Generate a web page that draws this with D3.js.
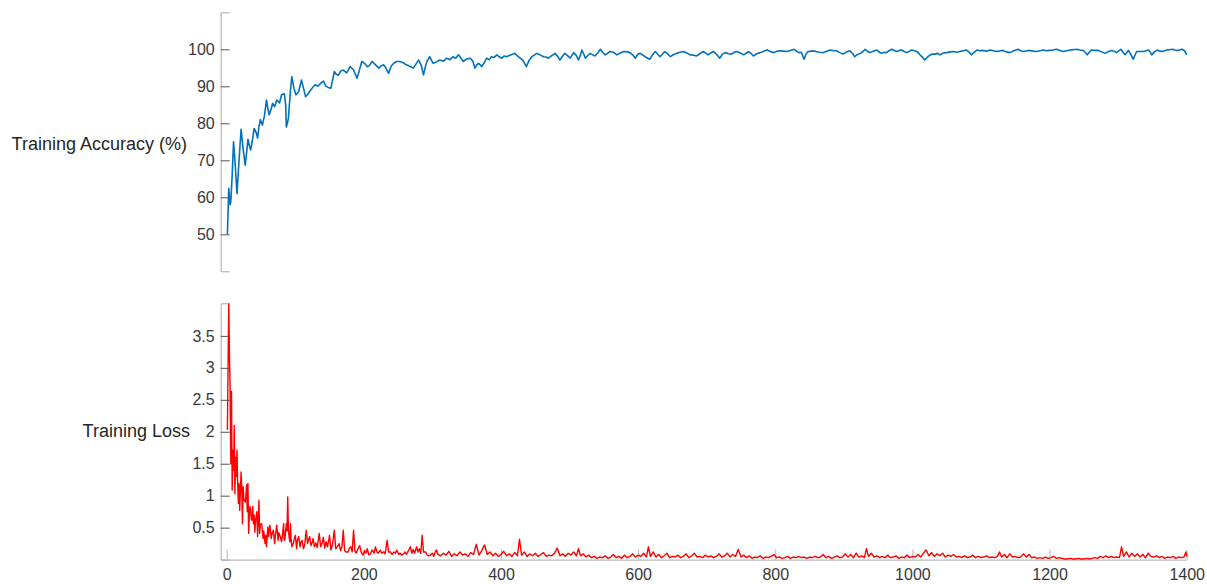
<!DOCTYPE html>
<html>
<head>
<meta charset="utf-8">
<script src="https://cdn.jsdelivr.net/npm/d3@7"></script>
<style>
  html, body { margin: 0; padding: 0; background: #ffffff; }
  svg { display: block; font-family: "Liberation Sans", Arial, Helvetica, sans-serif; }
  .axis text { fill: #383838; font-size: 16px; }
  .ylabel { fill: #262626; font-size: 18px; }
</style>
</head>
<body>
<svg id="chart" width="1207" height="584"></svg>
<script>
// Training accuracy (%) read at iteration checkpoints: [iteration, accuracy]
const accuracy = [
  [1,50],[3,62.4],[5,58],[6,58.8],[8,66],[10,75],[12,70],[15,61],[18,70],[21,78.4],
  [24,73],[27,68.7],[29,72],[31,75.7],[33,74],[35,72.8],[38,76],[40,78.6],[43,77.5],[45,76],
  [47,79],[49,81],[52,79.5],[55,82],[58,86.3],[60,84],[62,82.3],[65,84],[67,85.4],[70,84.5],
  [73,86.3],[77,85.5],[80,87.7],[84,88],[86,85],[87,79],[89,80.5],[90,81.4],[93,89],[95,92.6],
  [98,89.5],[101,87.7],[105,88.6],[109,91.7],[112,89.5],[115,87.2],[118,87.8],[121,88.6],[125,89.6],[129,90.4],
  [133,90],[137,90.8],[141,91.4],[145,90],[148,89.7],[152,89.5],[157,94],[160,93.2],[163,93],[166,94.1],
  [170,94.4],[175,93.6],[180,95.3],[185,94.4],[190,92.2],[193,94],[197,96.7],[201,96.2],[205,95.3],[208,95.6],
  [212,96.7],[216,96],[222,94.9],[225,95.5],[229,95.8],[232,95],[236,93.5],[240,95.5],[244,96.3],[248,96.7],
  [253,96.7],[258,96.3],[262,95.8],[267,95.4],[272,94.9],[276,96],[280,97.1],[284,95.5],[287,93.1],[290,95.5],
  [292,96.7],[296,98],[301,96.2],[306,96.6],[311,97.1],[316,96.8],[321,97.6],[326,97.2],[330,98],[334,97.6],
  [338,98.5],[342,97.5],[345,96.7],[350,97.4],[355,97.6],[359,96.8],[362,94.9],[365,95.8],[367,96.2],[370,95.8],
  [372,95.3],[376,96.5],[379,97.6],[383,97.2],[386,98],[390,97.8],[394,98.5],[398,97.9],[401,97.6],[405,98.2],
  [408,98],[412,98.3],[416,98.6],[420,98.9],[424,98.2],[428,97.6],[432,97],[437,95.3],[441,97],[445,98],
  [449,98.5],[452,98.9],[457,98.5],[462,98],[466,97.9],[469,97.6],[474,98.3],[479,98.9],[483,98],[486,97.1],
  [490,98.2],[493,98.9],[497,98.3],[501,97.6],[506,99.1],[510,98.3],[513,97.1],[516,98.5],[518,99.8],[521,98.6],
  [523,97.6],[527,98.4],[530,98.9],[534,98.5],[537,98.2],[541,99],[545,100],[548,99.2],[552,98.5],[556,99],
  [559,99.4],[564,99.2],[569,98.5],[574,99],[579,99.4],[584,99.3],[588,99.1],[592,98.5],[596,97.6],[600,98.8],
  [603,98.9],[607,98.4],[610,98],[614,97.6],[617,97.3],[621,98.5],[625,99.4],[629,98.6],[632,98],[636,98.8],
  [639,99.4],[643,98.8],[647,98],[652,98.6],[656,98.9],[661,99.2],[666,99.4],[671,99],[676,98.5],[681,98.4],
  [685,98.2],[690,98.8],[695,99.4],[699,98.9],[702,98.5],[706,99],[710,99.4],[715,98.5],[719,97.6],[723,98.7],
  [727,99.1],[732,98.8],[736,98.7],[740,99.2],[744,99.4],[749,99],[754,98.5],[758,99],[761,99.4],[765,98.8],
  [768,98.2],[773,98.8],[778,99.1],[783,99.5],[788,99.8],[793,99.4],[798,99.1],[803,99.5],[807,99.6],[812,99.5],
  [817,99.4],[822,99.7],[827,100],[831,99.5],[834,99.1],[838,99.2],[842,97.3],[845,98.8],[848,99.4],[853,99.5],
  [858,99.5],[864,99.2],[870,99.1],[875,99.5],[880,99.8],[885,99.6],[889,99.6],[894,99.1],[899,98.7],[904,99.3],
  [909,99.6],[913,98.8],[916,98],[920,98.6],[924,98.9],[928,99.4],[931,100],[935,99.4],[938,99.1],[943,99.5],
  [948,99.8],[952,99.2],[955,98.9],[959,99.2],[962,99.1],[966,99.6],[970,100],[974,99.6],[977,99.4],[981,99.7],
  [984,99.8],[988,99.4],[992,99.1],[996,99.5],[999,99.8],[1003,99.6],[1006,99.4],[1009,99],[1011,98.5],[1015,97.8],
  [1018,97.1],[1022,97.9],[1026,98.5],[1030,98.7],[1033,98.7],[1037,98.9],[1040,98.5],[1045,99],[1050,99.1],[1055,99.3],
  [1060,99.4],[1065,99.2],[1069,99.4],[1074,99.6],[1079,99.8],[1083,99.2],[1086,98.5],[1090,99.2],[1094,99.8],[1099,99.6],
  [1103,99.7],[1108,99.5],[1113,99.8],[1118,99.6],[1123,99.4],[1128,99.6],[1132,99.7],[1137,99.3],[1142,99.1],[1148,99.6],
  [1154,100],[1158,99.6],[1162,99.4],[1167,99.6],[1171,99.7],[1176,99.5],[1181,99.4],[1186,99.6],[1191,99.8],[1196,99.6],
  [1200,99.7],[1205,99.8],[1210,100],[1215,99.7],[1220,99.4],[1225,99.6],[1230,99.8],[1235,99.9],[1239,100],[1244,99.8],
  [1249,99.7],[1252,99.2],[1255,98.5],[1258,99.2],[1261,99.8],[1266,99.7],[1271,99.7],[1276,99.3],[1281,98.9],[1286,99.4],
  [1291,99.7],[1295,99.4],[1298,99.1],[1301,99.6],[1304,100],[1307,99.2],[1310,98.5],[1313,99.2],[1315,99.7],[1319,98.5],
  [1322,97.3],[1325,98.6],[1327,99.4],[1332,99.4],[1337,99.4],[1341,99.6],[1344,99.8],[1347,99.2],[1349,98.5],[1353,99.3],
  [1357,99.8],[1361,99.5],[1364,99.4],[1368,99.6],[1371,99.8],[1375,99.9],[1379,100],[1383,99.8],[1386,99.7],[1390,99.8],
  [1393,100],[1397,99.6],[1400,98.5]
];

// Training loss read at iteration checkpoints: [iteration, loss]
const loss = [
  [1,2.03],[3,4.0],[4,3.2],[5,2.65],[6,1.5],[7,2.63],[8,1.09],[9,1.71],[10,1.4],[11,2.1],
  [12,1.03],[13,1.6],[14,1.3],[15,1.71],[16,1.2],[17,0.88],[18,1.19],[19,0.77],[20,1.1],[21,1.37],
  [22,1.09],[23,0.56],[24,1.14],[25,0.95],[27,0.9],[28,0.98],[29,1.17],[30,0.75],[31,1.19],[32,0.41],
  [33,0.7],[34,0.83],[35,0.77],[36,0.62],[37,0.62],[38,0.83],[39,0.56],[40,0.7],[41,0.43],[42,0.6],
  [44,0.75],[45,0.36],[46,0.6],[47,0.93],[48,0.41],[49,0.55],[51,0.56],[53,0.33],[54,0.45],[56,0.25],
  [57,0.38],[58,0.2],[59,0.35],[60,0.51],[61,0.36],[62,0.45],[63,0.54],[65,0.33],[66,0.4],[68,0.46],
  [70,0.25],[71,0.38],[73,0.54],[75,0.3],[76,0.42],[78,0.36],[80,0.28],[81,0.35],[83,0.56],[84,0.3],
  [85,0.33],[87,0.56],[88,0.45],[89,0.98],[90,0.46],[91,0.35],[92,0.28],[93,0.56],[94,0.3],[95,0.2],
  [97,0.25],[98,0.3],[100,0.38],[102,0.17],[103,0.3],[105,0.36],[107,0.2],[108,0.27],[110,0.3],[112,0.17],
  [114,0.25],[116,0.46],[118,0.25],[119,0.3],[121,0.36],[123,0.22],[125,0.28],[126,0.33],[128,0.2],[130,0.26],
  [132,0.19],[135,0.41],[137,0.2],[139,0.25],[141,0.35],[143,0.18],[145,0.28],[147,0.2],[150,0.38],[152,0.15],
  [154,0.22],[157,0.46],[159,0.17],[161,0.2],[164,0.25],[166,0.14],[168,0.2],[170,0.46],[172,0.14],[174,0.12],
  [177,0.12],[179,0.18],[181,0.2],[183,0.12],[185,0.46],[187,0.14],[189,0.1],[191,0.16],[194,0.22],[196,0.12],
  [199,0.07],[201,0.14],[203,0.1],[205,0.17],[207,0.08],[210,0.09],[212,0.15],[215,0.1],[217,0.2],[219,0.12],
  [221,0.1],[224,0.15],[226,0.1],[229,0.12],[231,0.09],[234,0.3],[236,0.12],[239,0.12],[241,0.08],[244,0.12],
  [246,0.1],[248,0.15],[251,0.08],[253,0.1],[255,0.07],[258,0.09],[260,0.12],[262,0.08],[265,0.14],[268,0.2],
  [270,0.1],[272,0.16],[274,0.1],[277,0.2],[279,0.12],[281,0.17],[283,0.1],[285,0.38],[287,0.12],[290,0.12],
  [292,0.08],[294,0.06],[297,0.07],[300,0.1],[302,0.05],[304,0.12],[306,0.15],[308,0.08],[312,0.06],[316,0.1],
  [320,0.07],[324,0.13],[328,0.05],[332,0.09],[336,0.06],[340,0.12],[344,0.07],[348,0.09],[352,0.05],[356,0.11],
  [360,0.08],[364,0.24],[368,0.07],[372,0.14],[376,0.23],[380,0.08],[384,0.12],[388,0.06],[392,0.1],[396,0.05],
  [400,0.08],[404,0.13],[408,0.06],[412,0.09],[416,0.05],[420,0.11],[424,0.06],[427,0.32],[430,0.07],[434,0.12],
  [438,0.05],[442,0.09],[446,0.06],[450,0.1],[454,0.05],[458,0.08],[462,0.11],[466,0.05],[470,0.07],[474,0.06],
  [478,0.1],[482,0.18],[486,0.06],[490,0.09],[494,0.05],[498,0.1],[502,0.07],[506,0.12],[510,0.06],[513,0.17],
  [516,0.06],[520,0.09],[524,0.04],[528,0.07],[532,0.03],[536,0.05],[540,0.02],[544,0.04],[548,0.03],[552,0.06],
  [556,0.02],[560,0.04],[564,0.08],[568,0.03],[572,0.05],[576,0.02],[580,0.07],[584,0.03],[588,0.05],[592,0.09],
  [596,0.04],[600,0.07],[604,0.05],[608,0.1],[612,0.04],[615,0.2],[618,0.05],[622,0.12],[626,0.04],[630,0.08],
  [634,0.03],[638,0.06],[642,0.1],[646,0.03],[650,0.05],[654,0.04],[658,0.07],[662,0.03],[666,0.05],[670,0.09],
  [674,0.03],[678,0.06],[682,0.1],[686,0.04],[690,0.05],[694,0.03],[698,0.07],[702,0.04],[706,0.06],[710,0.03],
  [714,0.05],[718,0.09],[722,0.04],[726,0.06],[730,0.1],[734,0.04],[738,0.08],[742,0.05],[746,0.16],[750,0.04],
  [754,0.07],[758,0.03],[762,0.06],[766,0.02],[770,0.04],[774,0.03],[778,0.06],[782,0.02],[786,0.04],[790,0.03],
  [794,0.05],[798,0.08],[802,0.03],[806,0.04],[810,0.02],[814,0.03],[818,0.05],[822,0.02],[826,0.04],[830,0.03],
  [834,0.05],[838,0.03],[842,0.04],[846,0.02],[850,0.04],[854,0.03],[858,0.05],[862,0.03],[866,0.04],[870,0.08],
  [874,0.03],[878,0.05],[882,0.02],[886,0.04],[890,0.06],[894,0.03],[898,0.04],[902,0.09],[906,0.04],[910,0.08],
  [914,0.03],[918,0.1],[922,0.04],[926,0.06],[930,0.03],[933,0.17],[936,0.05],[940,0.1],[944,0.04],[948,0.06],
  [952,0.03],[956,0.05],[960,0.03],[964,0.07],[968,0.03],[972,0.04],[976,0.06],[980,0.02],[984,0.04],[988,0.03],
  [992,0.07],[996,0.03],[1000,0.05],[1004,0.04],[1008,0.08],[1012,0.04],[1016,0.1],[1020,0.15],[1024,0.06],[1028,0.11],
  [1032,0.05],[1036,0.09],[1040,0.06],[1044,0.1],[1048,0.04],[1052,0.07],[1056,0.05],[1060,0.08],[1064,0.04],[1068,0.05],
  [1072,0.03],[1076,0.06],[1080,0.03],[1084,0.04],[1088,0.07],[1092,0.03],[1096,0.05],[1100,0.03],[1104,0.04],[1108,0.06],
  [1112,0.03],[1116,0.04],[1120,0.03],[1124,0.05],[1127,0.12],[1130,0.04],[1134,0.08],[1138,0.03],[1142,0.09],[1146,0.04],
  [1150,0.05],[1154,0.03],[1158,0.04],[1162,0.09],[1166,0.04],[1170,0.08],[1174,0.03],[1178,0.04],[1182,0.02],[1186,0.03],
  [1190,0.02],[1194,0.04],[1198,0.02],[1202,0.03],[1206,0.05],[1210,0.02],[1214,0.03],[1218,0.02],[1222,0.01],[1226,0.01],
  [1230,0.02],[1234,0.01],[1238,0.01],[1242,0.02],[1246,0.01],[1250,0.01],[1254,0.02],[1258,0.01],[1262,0.02],[1266,0.03],
  [1270,0.02],[1274,0.05],[1278,0.03],[1282,0.06],[1286,0.03],[1290,0.05],[1294,0.03],[1298,0.04],[1302,0.03],[1305,0.2],
  [1308,0.05],[1312,0.12],[1316,0.04],[1320,0.1],[1324,0.05],[1328,0.09],[1332,0.04],[1336,0.08],[1340,0.03],[1344,0.1],
  [1348,0.05],[1352,0.04],[1356,0.06],[1360,0.03],[1364,0.05],[1368,0.02],[1372,0.04],[1376,0.03],[1380,0.05],[1384,0.02],
  [1388,0.04],[1392,0.03],[1396,0.04],[1399,0.12],[1400,0.05]
];

// Axis ticks and labels
const iterationTicks = [0, 200, 400, 600, 800, 1000, 1200, 1400];
const accuracyTicks = [50, 60, 70, 80, 90, 100];
const lossTicks = [0.5, 1, 1.5, 2, 2.5, 3, 3.5];
const accuracyLabel = "Training Accuracy (%)";
const lossLabel = "Training Loss";

const svg = d3.select("#chart");

const left = 220.7, right = 1186.7;
const x = d3.scaleLinear().domain([-8.75, 1400]).range([left, right]);

// Upper panel: accuracy
const yAcc = d3.scaleLinear().domain([40, 110]).range([271.3, 12.3]);
// Lower panel: loss
const yLoss = d3.scaleLinear().domain([0, 4.01]).range([559.6, 303.3]);

function styleYAxis(g) {
  g.attr("font-family", null).attr("font-size", null);
  g.select(".domain").attr("stroke", "#a8a8a8").attr("stroke-width", 1);
  g.selectAll(".tick line").attr("stroke", "#555555").attr("stroke-width", 1);
  g.selectAll(".tick text").attr("fill", "#383838");
}

svg.append("g")
  .attr("class", "axis")
  .attr("transform", `translate(${left},0)`)
  .call(d3.axisLeft(yAcc).tickValues(accuracyTicks).tickSizeInner(-9).tickSizeOuter(-9).tickPadding(6))
  .call(styleYAxis);

svg.append("g")
  .attr("class", "axis")
  .attr("transform", `translate(${left},0)`)
  .call(d3.axisLeft(yLoss).tickValues(lossTicks).tickFormat(d3.format("~g"))
    .tickSizeInner(-9).tickSizeOuter(-9).tickPadding(6))
  .call(styleYAxis);

const xAxis = svg.append("g")
  .attr("class", "axis")
  .attr("transform", `translate(0,${yLoss(0)})`)
  .call(d3.axisBottom(x).tickValues(iterationTicks).tickFormat(d3.format("d"))
    .tickSizeInner(-10).tickSizeOuter(0).tickPadding(7))
  .attr("font-family", null).attr("font-size", null);
xAxis.select(".domain").attr("stroke", "#a8a8a8");
xAxis.selectAll(".tick line").attr("stroke", "#b4b4b4");
xAxis.selectAll(".tick text").attr("fill", "#383838").attr("dy", "0.85em");

// Data lines
const accLine = d3.line().x(d => x(d[0])).y(d => yAcc(d[1]));
const lossLine = d3.line().x(d => x(d[0])).y(d => yLoss(d[1]));

svg.append("path")
  .datum(accuracy)
  .attr("fill", "none")
  .attr("stroke", "#0072BD")
  .attr("stroke-width", 1.6)
  .attr("stroke-linejoin", "round")
  .attr("d", accLine);

svg.append("path")
  .datum(loss)
  .attr("fill", "none")
  .attr("stroke", "#FF0000")
  .attr("stroke-width", 1.4)
  .attr("stroke-linejoin", "round")
  .attr("d", lossLine);

// Horizontal panel labels
svg.append("text")
  .attr("class", "ylabel")
  .attr("x", 187)
  .attr("y", (yAcc(40) + yAcc(110)) / 2 + 2)
  .attr("text-anchor", "end")
  .attr("dominant-baseline", "central")
  .text(accuracyLabel);

svg.append("text")
  .attr("class", "ylabel")
  .attr("x", 190)
  .attr("y", (yLoss(0) + yLoss(4.01)) / 2)
  .attr("text-anchor", "end")
  .attr("dominant-baseline", "central")
  .text(lossLabel);
</script>
</body>
</html>
